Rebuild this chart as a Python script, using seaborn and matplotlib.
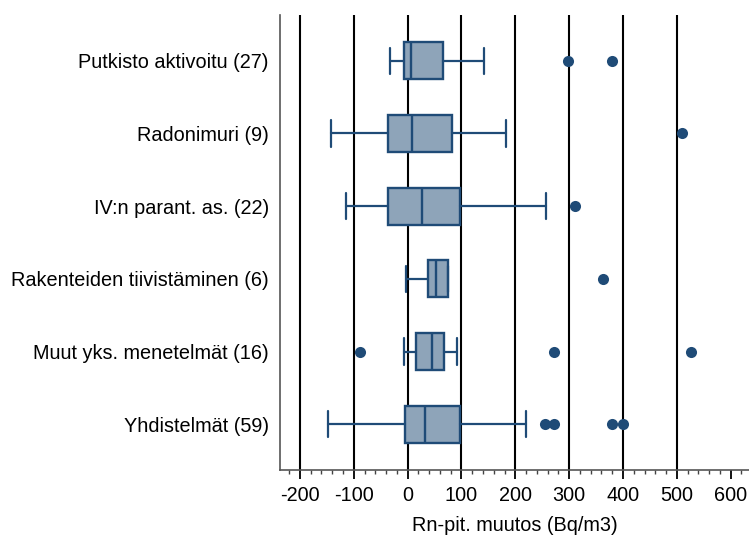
import matplotlib
matplotlib.use("Agg")
import matplotlib.pyplot as plt
from matplotlib.ticker import MultipleLocator
import seaborn as sns
import pandas as pd

# Radon concentration change by remediation method (Bq/m3)
methods = [
    "Putkisto aktivoitu (27)",
    "Radonimuri (9)",
    "IV:n parant. as. (22)",
    "Rakenteiden tiivistäminen (6)",
    "Muut yks. menetelmät (16)",
    "Yhdistelmät (59)",
]
whisker_low = [-32, -142, -115, -3, -6, -147]
q1 = [-6, -37, -36, 38, 15, -4]
median = [7, 8, 27, 53, 46, 32]
q3 = [65, 83, 98, 75, 67, 98]
whisker_high = [142, 183, 257, 75, 91, 220]
outliers = [
    [298, 380],
    [510],
    [310],
    [363],
    [-89, 271, 526],
    [256, 272, 379, 400],
]
grid_values = [-200, -100, 0, 100, 200, 300, 400, 500]
x_ticks = [-200, -100, 0, 100, 200, 300, 400, 500, 600]

sns.set_theme(style="white")
plt.rcParams["font.family"] = ["Liberation Sans", "DejaVu Sans"]

fill_color = "#8ea4b9"
edge_color = "#1f4b77"
font_size = 14.3

fig = plt.figure(figsize=(7.49, 5.36), dpi=100)
ax = fig.add_axes([0.3738, 0.123, 0.6262, 0.849])

for gv in grid_values:
    ax.axvline(gv, color="black", lw=1.5, zorder=0)

positions = list(range(1, len(methods) + 1))
stats = []
for i, name in enumerate(methods):
    stats.append(dict(label=name, whislo=whisker_low[i], q1=q1[i], med=median[i],
                      q3=q3[i], whishi=whisker_high[i], fliers=[]))

ax.bxp(stats, positions=positions, vert=False, widths=0.51, patch_artist=True,
       showfliers=False, manage_ticks=False,
       boxprops=dict(facecolor=fill_color, edgecolor=edge_color, linewidth=1.7),
       medianprops=dict(color=edge_color, linewidth=1.7),
       whiskerprops=dict(color=edge_color, linewidth=1.6),
       capprops=dict(color=edge_color, linewidth=1.6),
       capwidths=0.36, zorder=3)

out_df = pd.DataFrame(
    [(v, positions[i]) for i, vals in enumerate(outliers) for v in vals],
    columns=["value", "pos"],
)
sns.scatterplot(data=out_df, x="value", y="pos", ax=ax, s=64, color=edge_color,
                edgecolor=edge_color, linewidth=0, zorder=4, legend=False)

ax.set_xlim(-237, 634)
ax.set_ylim(6.63, 0.37)
ax.set_yticks(positions)
ax.set_yticklabels(methods, fontsize=font_size, color="black")
ax.tick_params(axis="y", length=0, pad=8)

ax.set_xticks(x_ticks)
ax.set_xticklabels([str(t) for t in x_ticks], fontsize=font_size, color="black")
ax.xaxis.set_minor_locator(MultipleLocator(20))
ax.tick_params(axis="x", which="major", direction="out", length=6.5, width=1.3,
               color="black", bottom=True, pad=5)
ax.tick_params(axis="x", which="minor", direction="out", length=3, width=1.0,
               color="#444444", bottom=True)
ax.set_xlabel("Rn-pit. muutos (Bq/m3)", fontsize=font_size, color="black", labelpad=8)
ax.set_ylabel("")

for side in ["top", "right"]:
    ax.spines[side].set_visible(False)
for side in ["left", "bottom"]:
    ax.spines[side].set_color("#555555")
    ax.spines[side].set_linewidth(1.2)

fig.savefig("out.png", dpi=100)
